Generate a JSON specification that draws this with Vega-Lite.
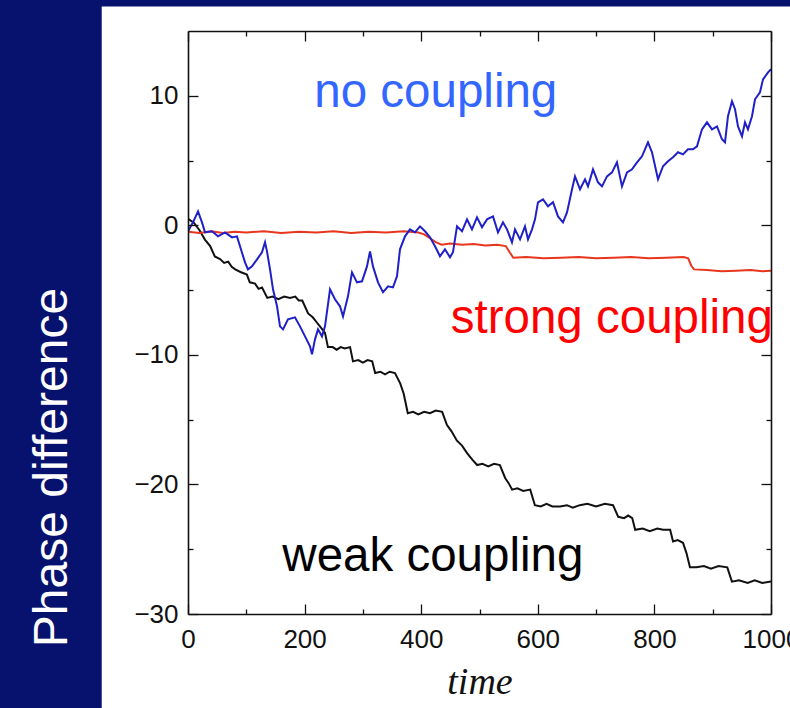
{
  "$schema": "https://vega.github.io/schema/vega-lite/v6.json",
  "width": 583,
  "height": 583,
  "autosize": {"type": "none"},
  "padding": {"left": 188, "top": 31, "right": 19, "bottom": 94},
  "background": "#06126e",
  "config": {
    "view": {"stroke": null},
    "axis": {
      "grid": false,
      "domainColor": "#111111",
      "domainWidth": 1.6,
      "tickColor": "#111111",
      "tickWidth": 1.3,
      "tickSize": -10,
      "labelFont": "Liberation Sans",
      "labelFontSize": 26,
      "labelColor": "#111111",
      "labelFlush": false,
      "labelOverlap": false
    }
  },
  "datasets": {
    "panel": [{"x1": -148, "x2": 1040, "y1": -38, "y2": 16.9}],
    "labels": [
      {"s": "no", "t": 425, "v": 9.1, "text": "no coupling"},
      {"s": "strong", "t": 727, "v": -8.34, "text": "strong coupling"},
      {"s": "weak", "t": 420, "v": -26.7, "text": "weak coupling"}
    ],
    "curves": [
      {"s": "weak", "t": 0, "v": 0.5}, {"s": "weak", "t": 10, "v": 0.2}, {"s": "weak", "t": 20, "v": -0.4}, {"s": "weak", "t": 29, "v": -1.1}, {"s": "weak", "t": 38, "v": -1.6}, {"s": "weak", "t": 46, "v": -2.4}, {"s": "weak", "t": 55, "v": -2.6}, {"s": "weak", "t": 62, "v": -2.9}, {"s": "weak", "t": 69, "v": -2.8}, {"s": "weak", "t": 75, "v": -3.2}, {"s": "weak", "t": 81, "v": -3.4}, {"s": "weak", "t": 90, "v": -3.6}, {"s": "weak", "t": 101, "v": -3.8}, {"s": "weak", "t": 106, "v": -4.4}, {"s": "weak", "t": 115, "v": -4.5}, {"s": "weak", "t": 121, "v": -4.9}, {"s": "weak", "t": 127, "v": -4.8}, {"s": "weak", "t": 136, "v": -5.6}, {"s": "weak", "t": 145, "v": -5.5}, {"s": "weak", "t": 155, "v": -5.7}, {"s": "weak", "t": 165, "v": -5.5}, {"s": "weak", "t": 175, "v": -5.6}, {"s": "weak", "t": 184, "v": -5.5}, {"s": "weak", "t": 190, "v": -5.8}, {"s": "weak", "t": 196, "v": -5.8}, {"s": "weak", "t": 206, "v": -6.8}, {"s": "weak", "t": 214, "v": -7.1}, {"s": "weak", "t": 221, "v": -7.5}, {"s": "weak", "t": 228, "v": -7.9}, {"s": "weak", "t": 235, "v": -8.3}, {"s": "weak", "t": 240, "v": -9.4}, {"s": "weak", "t": 248, "v": -9.4}, {"s": "weak", "t": 255, "v": -9.6}, {"s": "weak", "t": 262, "v": -9.4}, {"s": "weak", "t": 269, "v": -9.5}, {"s": "weak", "t": 278, "v": -9.4}, {"s": "weak", "t": 283, "v": -10.5}, {"s": "weak", "t": 292, "v": -10.4}, {"s": "weak", "t": 300, "v": -10.6}, {"s": "weak", "t": 308, "v": -10.4}, {"s": "weak", "t": 316, "v": -10.5}, {"s": "weak", "t": 321, "v": -11.4}, {"s": "weak", "t": 330, "v": -11.3}, {"s": "weak", "t": 338, "v": -11.5}, {"s": "weak", "t": 346, "v": -11.3}, {"s": "weak", "t": 355, "v": -11.4}, {"s": "weak", "t": 364, "v": -12.2}, {"s": "weak", "t": 370, "v": -13.0}, {"s": "weak", "t": 377, "v": -14.5}, {"s": "weak", "t": 386, "v": -14.4}, {"s": "weak", "t": 395, "v": -14.6}, {"s": "weak", "t": 405, "v": -14.4}, {"s": "weak", "t": 415, "v": -14.5}, {"s": "weak", "t": 425, "v": -14.3}, {"s": "weak", "t": 436, "v": -14.4}, {"s": "weak", "t": 444, "v": -15.4}, {"s": "weak", "t": 452, "v": -15.9}, {"s": "weak", "t": 461, "v": -16.6}, {"s": "weak", "t": 470, "v": -17.0}, {"s": "weak", "t": 479, "v": -17.6}, {"s": "weak", "t": 488, "v": -18.1}, {"s": "weak", "t": 496, "v": -18.5}, {"s": "weak", "t": 505, "v": -18.4}, {"s": "weak", "t": 515, "v": -18.6}, {"s": "weak", "t": 525, "v": -18.4}, {"s": "weak", "t": 535, "v": -18.5}, {"s": "weak", "t": 544, "v": -19.5}, {"s": "weak", "t": 550, "v": -19.9}, {"s": "weak", "t": 556, "v": -20.4}, {"s": "weak", "t": 565, "v": -20.3}, {"s": "weak", "t": 575, "v": -20.5}, {"s": "weak", "t": 587, "v": -20.4}, {"s": "weak", "t": 595, "v": -21.6}, {"s": "weak", "t": 605, "v": -21.7}, {"s": "weak", "t": 615, "v": -21.5}, {"s": "weak", "t": 625, "v": -21.7}, {"s": "weak", "t": 638, "v": -21.7}, {"s": "weak", "t": 650, "v": -21.6}, {"s": "weak", "t": 660, "v": -21.8}, {"s": "weak", "t": 672, "v": -21.6}, {"s": "weak", "t": 685, "v": -21.5}, {"s": "weak", "t": 700, "v": -21.7}, {"s": "weak", "t": 715, "v": -21.5}, {"s": "weak", "t": 729, "v": -21.6}, {"s": "weak", "t": 738, "v": -22.5}, {"s": "weak", "t": 748, "v": -22.6}, {"s": "weak", "t": 755, "v": -22.4}, {"s": "weak", "t": 762, "v": -22.6}, {"s": "weak", "t": 767, "v": -23.5}, {"s": "weak", "t": 780, "v": -23.4}, {"s": "weak", "t": 792, "v": -23.6}, {"s": "weak", "t": 805, "v": -23.4}, {"s": "weak", "t": 815, "v": -23.5}, {"s": "weak", "t": 827, "v": -23.5}, {"s": "weak", "t": 832, "v": -24.4}, {"s": "weak", "t": 840, "v": -24.3}, {"s": "weak", "t": 849, "v": -24.5}, {"s": "weak", "t": 855, "v": -25.3}, {"s": "weak", "t": 861, "v": -26.4}, {"s": "weak", "t": 872, "v": -26.4}, {"s": "weak", "t": 885, "v": -26.3}, {"s": "weak", "t": 897, "v": -26.5}, {"s": "weak", "t": 910, "v": -26.3}, {"s": "weak", "t": 925, "v": -26.4}, {"s": "weak", "t": 933, "v": -27.5}, {"s": "weak", "t": 945, "v": -27.4}, {"s": "weak", "t": 960, "v": -27.6}, {"s": "weak", "t": 972, "v": -27.4}, {"s": "weak", "t": 985, "v": -27.6}, {"s": "weak", "t": 1000, "v": -27.5},
      {"s": "strong", "t": 0, "v": -0.5}, {"s": "strong", "t": 20, "v": -0.6}, {"s": "strong", "t": 40, "v": -0.45}, {"s": "strong", "t": 60, "v": -0.6}, {"s": "strong", "t": 80, "v": -0.5}, {"s": "strong", "t": 100, "v": -0.55}, {"s": "strong", "t": 130, "v": -0.45}, {"s": "strong", "t": 160, "v": -0.6}, {"s": "strong", "t": 190, "v": -0.5}, {"s": "strong", "t": 220, "v": -0.55}, {"s": "strong", "t": 250, "v": -0.45}, {"s": "strong", "t": 280, "v": -0.6}, {"s": "strong", "t": 310, "v": -0.5}, {"s": "strong", "t": 340, "v": -0.55}, {"s": "strong", "t": 370, "v": -0.45}, {"s": "strong", "t": 395, "v": -0.55}, {"s": "strong", "t": 405, "v": -0.7}, {"s": "strong", "t": 415, "v": -1.0}, {"s": "strong", "t": 425, "v": -1.3}, {"s": "strong", "t": 435, "v": -1.5}, {"s": "strong", "t": 450, "v": -1.4}, {"s": "strong", "t": 470, "v": -1.5}, {"s": "strong", "t": 490, "v": -1.45}, {"s": "strong", "t": 510, "v": -1.55}, {"s": "strong", "t": 530, "v": -1.5}, {"s": "strong", "t": 545, "v": -1.6}, {"s": "strong", "t": 552, "v": -2.1}, {"s": "strong", "t": 558, "v": -2.5}, {"s": "strong", "t": 580, "v": -2.45}, {"s": "strong", "t": 610, "v": -2.55}, {"s": "strong", "t": 640, "v": -2.5}, {"s": "strong", "t": 670, "v": -2.45}, {"s": "strong", "t": 700, "v": -2.55}, {"s": "strong", "t": 730, "v": -2.5}, {"s": "strong", "t": 760, "v": -2.45}, {"s": "strong", "t": 790, "v": -2.55}, {"s": "strong", "t": 820, "v": -2.5}, {"s": "strong", "t": 850, "v": -2.45}, {"s": "strong", "t": 858, "v": -2.55}, {"s": "strong", "t": 863, "v": -3.1}, {"s": "strong", "t": 868, "v": -3.4}, {"s": "strong", "t": 890, "v": -3.45}, {"s": "strong", "t": 915, "v": -3.55}, {"s": "strong", "t": 940, "v": -3.5}, {"s": "strong", "t": 965, "v": -3.45}, {"s": "strong", "t": 985, "v": -3.55}, {"s": "strong", "t": 1000, "v": -3.5},
      {"s": "no", "t": 0, "v": -0.46}, {"s": "no", "t": 8.6, "v": 0.23}, {"s": "no", "t": 17.2, "v": 1.08}, {"s": "no", "t": 24, "v": 0.23}, {"s": "no", "t": 29.2, "v": -0.54}, {"s": "no", "t": 41.2, "v": -0.46}, {"s": "no", "t": 51.5, "v": -0.85}, {"s": "no", "t": 63.5, "v": -0.54}, {"s": "no", "t": 75.5, "v": -0.93}, {"s": "no", "t": 84, "v": -0.85}, {"s": "no", "t": 89.2, "v": -1.62}, {"s": "no", "t": 97.8, "v": -2.86}, {"s": "no", "t": 102.9, "v": -3.4}, {"s": "no", "t": 109.8, "v": -3.17}, {"s": "no", "t": 118.4, "v": -2.63}, {"s": "no", "t": 126.9, "v": -2.08}, {"s": "no", "t": 132.1, "v": -1.31}, {"s": "no", "t": 135.5, "v": -2.01}, {"s": "no", "t": 140.7, "v": -3.4}, {"s": "no", "t": 145.8, "v": -4.94}, {"s": "no", "t": 152.7, "v": -6.25}, {"s": "no", "t": 157.8, "v": -7.8}, {"s": "no", "t": 163, "v": -8.03}, {"s": "no", "t": 171.5, "v": -7.26}, {"s": "no", "t": 183.5, "v": -7.1}, {"s": "no", "t": 192.1, "v": -7.8}, {"s": "no", "t": 200.7, "v": -8.57}, {"s": "no", "t": 209.3, "v": -9.34}, {"s": "no", "t": 212.7, "v": -9.96}, {"s": "no", "t": 217.8, "v": -8.8}, {"s": "no", "t": 223, "v": -8.03}, {"s": "no", "t": 229.8, "v": -8.57}, {"s": "no", "t": 235, "v": -7.8}, {"s": "no", "t": 243.6, "v": -4.94}, {"s": "no", "t": 252.1, "v": -5.71}, {"s": "no", "t": 260.7, "v": -6.25}, {"s": "no", "t": 265.9, "v": -7.03}, {"s": "no", "t": 274.4, "v": -5.48}, {"s": "no", "t": 281.3, "v": -3.63}, {"s": "no", "t": 289.9, "v": -4.4}, {"s": "no", "t": 298.5, "v": -4.32}, {"s": "no", "t": 307, "v": -3.17}, {"s": "no", "t": 312.2, "v": -2.01}, {"s": "no", "t": 317.3, "v": -3.17}, {"s": "no", "t": 325.9, "v": -4.4}, {"s": "no", "t": 334.5, "v": -5.17}, {"s": "no", "t": 343.1, "v": -4.71}, {"s": "no", "t": 351.6, "v": -4.79}, {"s": "no", "t": 358.5, "v": -3.94}, {"s": "no", "t": 363.6, "v": -1.85}, {"s": "no", "t": 372.2, "v": -0.85}, {"s": "no", "t": 380.8, "v": -0.31}, {"s": "no", "t": 389.4, "v": -0.54}, {"s": "no", "t": 397.9, "v": -0.08}, {"s": "no", "t": 406.5, "v": -0.46}, {"s": "no", "t": 415.1, "v": -0.93}, {"s": "no", "t": 423.7, "v": -1.62}, {"s": "no", "t": 432.2, "v": -2.39}, {"s": "no", "t": 440.8, "v": -1.85}, {"s": "no", "t": 449.4, "v": -2.47}, {"s": "no", "t": 454.5, "v": -2.08}, {"s": "no", "t": 461.4, "v": -0.08}, {"s": "no", "t": 470, "v": -0.46}, {"s": "no", "t": 478.6, "v": 0.46}, {"s": "no", "t": 487.1, "v": -0.31}, {"s": "no", "t": 495.7, "v": 0.62}, {"s": "no", "t": 504.3, "v": -0.15}, {"s": "no", "t": 512.9, "v": 0.46}, {"s": "no", "t": 523.2, "v": 0.69}, {"s": "no", "t": 531.7, "v": -0.54}, {"s": "no", "t": 540.3, "v": 0.23}, {"s": "no", "t": 547.2, "v": -0.31}, {"s": "no", "t": 555.7, "v": -1.31}, {"s": "no", "t": 560.9, "v": -0.31}, {"s": "no", "t": 569.5, "v": -1.08}, {"s": "no", "t": 578, "v": -0.08}, {"s": "no", "t": 583.2, "v": -1.08}, {"s": "no", "t": 590.1, "v": -0.31}, {"s": "no", "t": 595.2, "v": 0.46}, {"s": "no", "t": 600.3, "v": 1.78}, {"s": "no", "t": 608.9, "v": 2.01}, {"s": "no", "t": 617.5, "v": 1.47}, {"s": "no", "t": 626.1, "v": 1.78}, {"s": "no", "t": 634.6, "v": 0.69}, {"s": "no", "t": 643.2, "v": 0.23}, {"s": "no", "t": 650.1, "v": 1.0}, {"s": "no", "t": 658.7, "v": 2.78}, {"s": "no", "t": 663.8, "v": 3.78}, {"s": "no", "t": 672.4, "v": 2.78}, {"s": "no", "t": 681, "v": 3.55}, {"s": "no", "t": 686.1, "v": 3.01}, {"s": "no", "t": 694.7, "v": 4.32}, {"s": "no", "t": 703.3, "v": 3.32}, {"s": "no", "t": 710.1, "v": 3.01}, {"s": "no", "t": 718.7, "v": 3.78}, {"s": "no", "t": 727.3, "v": 4.09}, {"s": "no", "t": 735.8, "v": 4.86}, {"s": "no", "t": 744.4, "v": 3.01}, {"s": "no", "t": 753, "v": 4.09}, {"s": "no", "t": 761.6, "v": 4.32}, {"s": "no", "t": 770.2, "v": 4.86}, {"s": "no", "t": 778.7, "v": 5.33}, {"s": "no", "t": 789, "v": 6.41}, {"s": "no", "t": 795.9, "v": 5.64}, {"s": "no", "t": 806.2, "v": 3.55}, {"s": "no", "t": 814.8, "v": 4.56}, {"s": "no", "t": 823.3, "v": 4.94}, {"s": "no", "t": 831.9, "v": 5.25}, {"s": "no", "t": 840.5, "v": 5.64}, {"s": "no", "t": 849.1, "v": 5.48}, {"s": "no", "t": 857.6, "v": 5.87}, {"s": "no", "t": 866.2, "v": 5.87}, {"s": "no", "t": 873.1, "v": 6.1}, {"s": "no", "t": 881.6, "v": 7.41}, {"s": "no", "t": 890.2, "v": 7.95}, {"s": "no", "t": 898.8, "v": 7.41}, {"s": "no", "t": 907.4, "v": 7.64}, {"s": "no", "t": 915.9, "v": 6.64}, {"s": "no", "t": 921.1, "v": 6.41}, {"s": "no", "t": 926.2, "v": 8.42}, {"s": "no", "t": 933.1, "v": 9.58}, {"s": "no", "t": 938.3, "v": 8.96}, {"s": "no", "t": 943.4, "v": 7.64}, {"s": "no", "t": 950.3, "v": 6.87}, {"s": "no", "t": 955.4, "v": 7.95}, {"s": "no", "t": 960.5, "v": 7.41}, {"s": "no", "t": 967.4, "v": 8.42}, {"s": "no", "t": 972.6, "v": 9.73}, {"s": "no", "t": 981.1, "v": 10.27}, {"s": "no", "t": 986.3, "v": 11.27}, {"s": "no", "t": 994.9, "v": 11.81}, {"s": "no", "t": 1000, "v": 12.05}
    ]
  },
  "resolve": {"axis": {"x": "independent", "y": "independent"}},
  "layer": [
    {
      "data": {"name": "panel"},
      "mark": {"type": "rect", "color": "white", "clip": false, "zindex": 0},
      "encoding": {
        "x": {"field": "x1", "type": "quantitative", "scale": {"domain": [0, 1000], "nice": false, "zero": false},
          "axis": {"orient": "top", "zindex": 2, "values": [0, 100, 200, 300, 400, 500, 600, 700, 800, 900, 1000], "labels": false, "title": null,
            "tickDash": {"condition": {"test": "datum.value % 200 !== 0", "value": [5, 30]}, "value": [30, 0]}}},
        "x2": {"field": "x2"},
        "y": {"field": "y1", "type": "quantitative", "scale": {"domain": [-30, 15], "nice": false, "zero": false},
          "axis": {"orient": "right", "zindex": 2, "values": [-30, -25, -20, -15, -10, -5, 0, 5, 10], "labels": false, "title": null,
            "tickDash": {"condition": {"test": "datum.value % 10 !== 0", "value": [5, 30]}, "value": [30, 0]}}},
        "y2": {"field": "y2"}
      }
    },
    {
      "data": {"name": "curves"},
      "mark": {"type": "line", "clip": true, "zindex": 1},
      "encoding": {
        "x": {"field": "t", "type": "quantitative", "scale": {"domain": [0, 1000], "nice": false, "zero": false},
          "axis": {"orient": "bottom", "zindex": 2, "values": [0, 100, 200, 300, 400, 500, 600, 700, 800, 900, 1000],
            "format": "d",
            "labelExpr": "datum.value % 200 === 0 ? datum.label : ''",
            "tickDash": {"condition": {"test": "datum.value % 200 !== 0", "value": [5, 30]}, "value": [30, 0]},
            "labelPadding": 22,
            "title": "time", "titleFont": "Liberation Serif", "titleFontStyle": "italic", "titleFontWeight": "normal",
            "titleFontSize": 38, "titleColor": "#111111", "titleBaseline": "alphabetic", "titleY": 79}},
        "y": {"field": "v", "type": "quantitative", "scale": {"domain": [-30, 15], "nice": false, "zero": false},
          "axis": {"orient": "left", "zindex": 2, "values": [-30, -25, -20, -15, -10, -5, 0, 5, 10],
            "labelExpr": "datum.value % 10 === 0 ? datum.label : ''",
            "tickDash": {"condition": {"test": "datum.value % 10 !== 0", "value": [5, 30]}, "value": [30, 0]},
            "labelPadding": 20,
            "title": "Phase difference", "titleColor": "white", "titleFont": "Liberation Sans", "titleFontSize": 48,
            "titleFontWeight": "normal", "titleAngle": 270, "titleX": -136, "titleY": 436, "titleAlign": "center", "titleBaseline": "middle"}},
        "color": {"field": "s", "type": "nominal", "sort": ["weak", "strong", "no"],
          "scale": {"domain": ["weak", "strong", "no"], "range": ["#111111", "#e8361e", "#2020c8"]}, "legend": null},
        "strokeWidth": {"field": "s", "type": "nominal", "scale": {"domain": ["weak", "strong", "no"], "range": [2, 2, 3]}, "legend": null}
      }
    },
    {
      "data": {"name": "labels"},
      "transform": [{"filter": "datum.s === 'no'"}],
      "mark": {"type": "text", "zindex": 1, "font": "Liberation Sans", "fontSize": 47.5, "align": "center", "baseline": "alphabetic", "color": "#3366ff", "clip": false},
      "encoding": {
        "x": {"field": "t", "type": "quantitative", "axis": null},
        "y": {"field": "v", "type": "quantitative", "axis": null},
        "text": {"field": "text"}
      }
    },
    {
      "data": {"name": "labels"},
      "transform": [{"filter": "datum.s === 'strong'"}],
      "mark": {"type": "text", "zindex": 1, "font": "Liberation Sans", "fontSize": 47.5, "align": "center", "baseline": "alphabetic", "color": "#ff0000", "clip": false},
      "encoding": {
        "x": {"field": "t", "type": "quantitative", "axis": null},
        "y": {"field": "v", "type": "quantitative", "axis": null},
        "text": {"field": "text"}
      }
    },
    {
      "data": {"name": "labels"},
      "transform": [{"filter": "datum.s === 'weak'"}],
      "mark": {"type": "text", "zindex": 1, "font": "Liberation Sans", "fontSize": 47.5, "align": "center", "baseline": "alphabetic", "color": "#000000", "clip": false},
      "encoding": {
        "x": {"field": "t", "type": "quantitative", "axis": null},
        "y": {"field": "v", "type": "quantitative", "axis": null},
        "text": {"field": "text"}
      }
    }
  ]
}
